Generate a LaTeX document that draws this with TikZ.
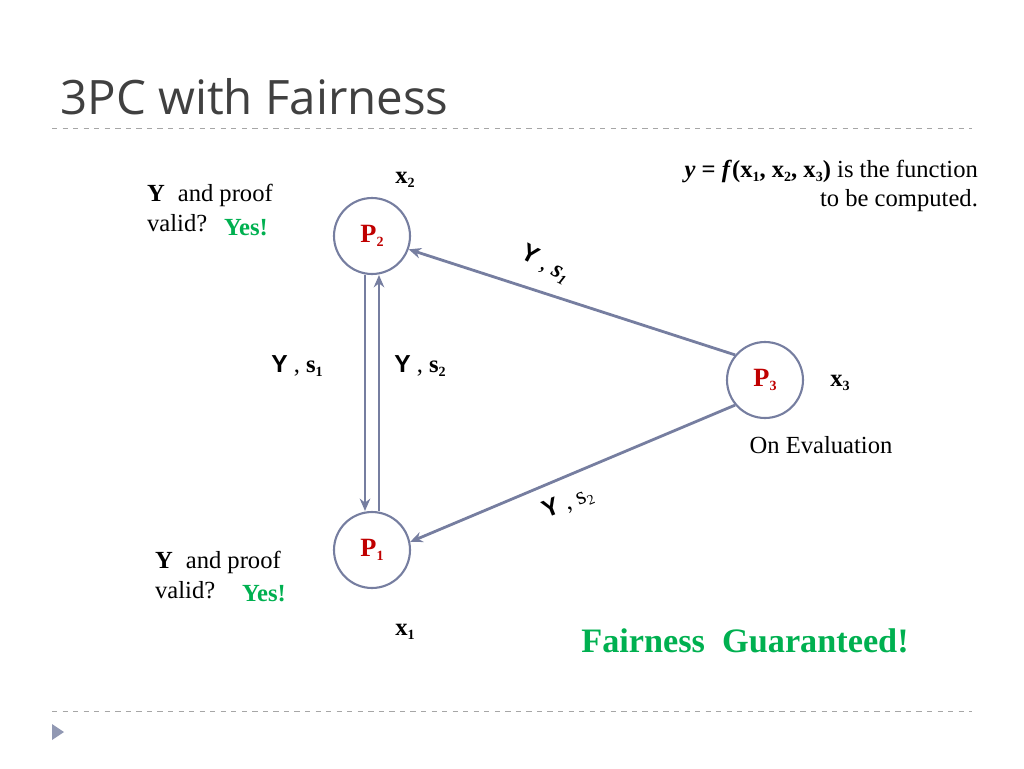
\documentclass[tikz,border=0pt]{standalone}
\usepackage{fontspec}
\setmainfont{Liberation Serif}
\newfontfamily\titlefont{Open Sans}
\newfontfamily\yfont{Liberation Sans}
\usetikzlibrary{positioning,arrows.meta}
\definecolor{lineblue}{RGB}{118,126,160}
\definecolor{pred}{RGB}{192,0,0}
\definecolor{yesgreen}{RGB}{0,176,80}
\tikzset{
  party/.style={circle,draw=lineblue,line width=1.2pt,minimum size=1.52cm,inner sep=0pt,font=\fontsize{15}{17}\selectfont\bfseries\color{pred}},
  msg/.style={-{Stealth[length=7pt,width=6pt]},draw=lineblue,line width=1.6pt},
  txt/.style={font=\fontsize{14}{17}\selectfont,inner sep=1pt},
}
\newcommand{\Yb}{{\yfont\bfseries Y}}
\newcommand{\sub}[1]{\raisebox{-0.35ex}{\footnotesize #1}}
\begin{document}
\begin{tikzpicture}[x=0.02cm,y=-0.02cm]
	\useasboundingbox (0,0) rectangle (1024,768);
    % title and rules
	\node[anchor=west,font=\fontsize{27}{30}\selectfont\titlefont,text=black!75,inner sep=0pt] (title) at (60,97) {3PC with Fairness};
	\draw[dashed,black!35] (52,128)--(972,128);
	\draw[dashed,black!35] (52,711)--(972,711);
	\fill[lineblue!80] (52,724)--(64,732)--(52,740)--cycle;
    % parties
	\node[party] (p2) at (372,236) {P\sub{2}};
	\node[party] (p3) at (765,380) {P\sub{3}};
	\node[party] (p1) at (372,550) {P\sub{1}};
    % inputs
	\node[txt,font=\fontsize{14}{17}\selectfont\bfseries] (x2) at (405,180) {x\sub{2}};
	\node[txt,font=\fontsize{14}{17}\selectfont\bfseries] (x3) at (840,383) {x\sub{3}};
	\node[txt,font=\fontsize{14}{17}\selectfont\bfseries] (x1) at (405,632) {x\sub{1}};
	% messages
	\draw[msg] (p3.140)--(p2.-20);
	\draw[msg] (p3.220)--(p1.12);
	\draw[msg] ([xshift=-0.14cm]p2.south)--([xshift=-0.14cm]p1.north);
	\draw[msg] ([xshift=0.14cm]p1.north)--([xshift=0.14cm]p2.south);
	\node[txt,rotate=-28] (m1) at (545,264) {\Yb\ , \textbf{\textit{s\sub{1}}}};
	\node[txt,rotate=22] (m2) at (568,503) {\Yb\ , s\sub{2}};
	\node[txt] (m3) at (297,366) {\Yb\ , \textbf{s\sub{1}}};
	\node[txt] (m4) at (420,366) {\Yb\ , \textbf{s\sub{2}}};
	% checks
	\node[txt,anchor=west,align=left] (chk2) at (145,208) {\textbf{Y}\; and proof\\valid?};
	\node[txt,anchor=west,text=yesgreen,font=\fontsize{14}{17}\selectfont\bfseries] (yes2) at (222,228) {Yes!};
	\node[txt,anchor=west,align=left] (chk1) at (153,575) {\textbf{Y}\; and proof\\valid?};
	\node[txt,anchor=west,text=yesgreen,font=\fontsize{14}{17}\selectfont\bfseries] (yes1) at (240,594) {Yes!};
	% function and notes
	\node[txt,anchor=east,align=right] (fn) at (980,186) {\textbf{\textit{y} = \textit{f}(x\sub{1}, x\sub{2}, x\sub{3})} is the function\\to be computed.};
	\node[txt] (eval) at (821,445) {On Evaluation};
	\node[txt,text=yesgreen,font=\fontsize{19.5}{22}\selectfont\bfseries] (fair) at (745,641) {Fairness\ \ Guaranteed!};
\end{tikzpicture}
\end{document}
